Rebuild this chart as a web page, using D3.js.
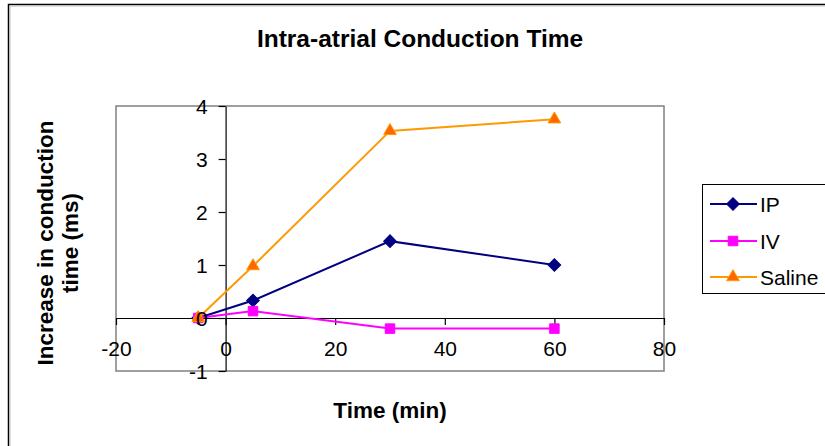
<!DOCTYPE html>
<html>
<head>
<meta charset="utf-8">
<script src="https://cdn.jsdelivr.net/npm/d3@7"></script>
<style>
  html, body { margin: 0; padding: 0; background: #fff; }
  svg { display: block; font-family: "Liberation Sans", Arial, sans-serif; }
</style>
</head>
<body>
<svg id="chart" width="825" height="446"></svg>
<script>
// Time points (min) and increase in conduction time (ms) per treatment
const times = [-5, 5, 30, 60];
const ipValues = [0, 0.33, 1.45, 1.0];
const ivValues = [0, 0.13, -0.2, -0.2];
const salineValues = [0, 0.98, 3.53, 3.75];
const seriesNames = ["IP", "IV", "Saline"];
const xTicks = [-20, 0, 20, 40, 60, 80];
const yTicks = [-1, 0, 1, 2, 3, 4];

// diamond = square turned by 45 degrees
const series = [
  { name: seriesNames[0], values: ipValues, line: "#000080", fill: "#000080", stroke: "#000080", shape: d3.symbolSquare, size: 80, rot: 45 },
  { name: seriesNames[1], values: ivValues, line: "#FF00FF", fill: "#FF00FF", stroke: "#FF00FF", shape: d3.symbolSquare, size: 90, rot: 0 },
  { name: seriesNames[2], values: salineValues, line: "#FF9900", fill: "#FF6600", stroke: "#FF9900", shape: d3.symbolTriangle, size: 70, rot: 0 }
];

const svg = d3.select("#chart");

// outer chart frame
svg.append("rect")
  .attr("x", 8.5).attr("y", 4.5).attr("width", 900).attr("height", 600)
  .attr("fill", "#fff").attr("stroke", "#000").attr("stroke-width", 1.5);
svg.append("rect")
  .attr("x", 10).attr("y", 6).attr("width", 900).attr("height", 600)
  .attr("fill", "none").attr("stroke", "#c0c0c0").attr("stroke-width", 1);

const plot = { left: 116, right: 664, top: 106, bottom: 371 };
const x = d3.scaleLinear().domain([-20, 80]).range([plot.left, plot.right]);
const y = d3.scaleLinear().domain([-1, 4]).range([plot.bottom, plot.top]);

// plot area border
svg.append("rect")
  .attr("x", plot.left).attr("y", plot.top)
  .attr("width", plot.right - plot.left).attr("height", plot.bottom - plot.top)
  .attr("fill", "#fff").attr("stroke", "#808080").attr("stroke-width", 1.5);

// title
svg.append("text")
  .attr("x", 420).attr("y", 47)
  .attr("text-anchor", "middle")
  .attr("font-weight", "bold").attr("font-size", 24.5)
  .text("Intra-atrial Conduction Time");

const plain = d => String(d);

// x axis through y = 0
const xAxis = svg.append("g")
  .attr("transform", `translate(0,${y(0)})`)
  .call(d3.axisBottom(x).tickValues(xTicks).tickSize(7).tickSizeOuter(0).tickFormat(plain));
xAxis.select(".domain").attr("stroke", "#000").attr("stroke-width", 1.2);
xAxis.selectAll(".tick line").attr("stroke", "#000").attr("stroke-width", 1.2);
xAxis.selectAll(".tick text")
  .attr("font-size", 21).attr("fill", "#000")
  .attr("font-family", "Liberation Sans, Arial, sans-serif")
  .attr("dy", null).attr("y", 38);

// y axis through x = 0 (line and ticks; labels drawn last)
const yAxis = svg.append("g")
  .attr("transform", `translate(${x(0)},0)`)
  .call(d3.axisLeft(y).tickValues(yTicks).tickSize(7).tickSizeOuter(0).tickFormat(""));
yAxis.select(".domain").attr("stroke", "#000").attr("stroke-width", 1.2);
yAxis.selectAll(".tick line").attr("stroke", "#000").attr("stroke-width", 1.2);

// axis titles
svg.append("text")
  .attr("x", 390).attr("y", 418)
  .attr("text-anchor", "middle")
  .attr("font-weight", "bold").attr("font-size", 22.5)
  .text("Time (min)");

const yTitle = svg.append("text")
  .attr("transform", "translate(53,243) rotate(-90)")
  .attr("text-anchor", "middle")
  .attr("font-weight", "bold").attr("font-size", 22.5);
yTitle.append("tspan").attr("x", 0).attr("y", 0).text("Increase in conduction");
yTitle.append("tspan").attr("x", 0).attr("y", 25).text("time (ms)");

// series lines and markers
const line = d3.line().x((d, i) => x(times[i])).y(d => y(d));
series.forEach(s => {
  svg.append("path")
    .datum(s.values)
    .attr("d", line)
    .attr("fill", "none")
    .attr("stroke", s.line)
    .attr("stroke-width", 2);
  svg.append("g").selectAll("path")
    .data(s.values)
    .join("path")
    .attr("transform", (d, i) => `translate(${x(times[i])},${y(d)}) rotate(${s.rot})`)
    .attr("d", d3.symbol().type(s.shape).size(s.size))
    .attr("fill", s.fill)
    .attr("stroke", s.stroke)
    .attr("stroke-width", 1);
});

// y tick labels on top of the data
svg.append("g").selectAll("text")
  .data(yTicks)
  .join("text")
  .attr("x", x(0) - 18)
  .attr("y", d => y(d))
  .attr("dy", "0.36em")
  .attr("text-anchor", "end")
  .attr("font-size", 21)
  .text(plain);

// legend
const legend = svg.append("g");
legend.append("rect")
  .attr("x", 702.5).attr("y", 184.5).attr("width", 140).attr("height", 109)
  .attr("fill", "#fff").attr("stroke", "#000").attr("stroke-width", 1);
const rowY = [204, 241, 277];
series.forEach((s, i) => {
  const g = legend.append("g").attr("transform", `translate(0,${rowY[i]})`);
  g.append("line").attr("x1", 710).attr("x2", 757).attr("y1", 0).attr("y2", 0)
    .attr("stroke", s.line).attr("stroke-width", 2);
  g.append("path")
    .attr("transform", `translate(733,0) rotate(${s.rot})`)
    .attr("d", d3.symbol().type(s.shape).size(s.size))
    .attr("fill", s.fill).attr("stroke", s.stroke).attr("stroke-width", 1);
  g.append("text")
    .attr("x", 760).attr("y", 0).attr("dy", "0.36em")
    .attr("font-size", 21)
    .text(s.name);
});
</script>
</body>
</html>
